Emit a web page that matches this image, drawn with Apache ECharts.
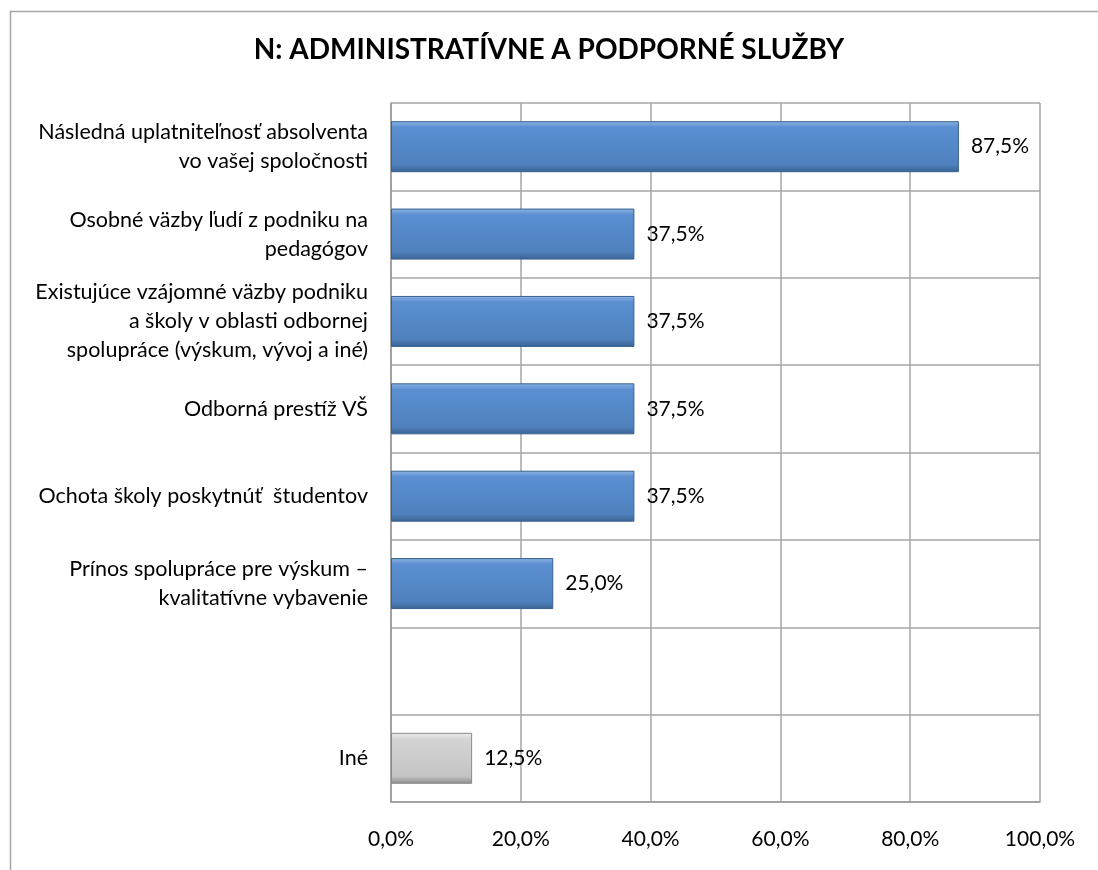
<!DOCTYPE html>
<html>
<head>
<meta charset="utf-8">
<script src="https://cdn.jsdelivr.net/npm/echarts@6/dist/echarts.min.js"></script>
<style>
html,body{margin:0;padding:0;background:#fff;}
#chart{width:1098px;height:870px;}
</style>
</head>
<body>
<div id="chart"></div>
<script>
var categories = [
	'Následná uplatniteľnosť absolventa\nvo vašej spoločnosti',
	'Osobné väzby ľudí z podniku na\npedagógov',
	'Existujúce vzájomné väzby podniku\na školy v oblasti odbornej\nspolupráce (výskum, vývoj a iné)',
	'Odborná prestíž VŠ',
	'Ochota školy poskytnúť  študentov',
	'Prínos spolupráce pre výskum –\nkvalitatívne vybavenie',
	'',
	'Iné'
];
var values = [87.5, 37.5, 37.5, 37.5, 37.5, 25.0, null, 12.5];
var greyIndex = 7;

var chart = echarts.init(document.getElementById('chart'));

var blue = new echarts.graphic.LinearGradient(0, 0, 0, 1, [
	{offset: 0, color: '#8db4e3'},
	{offset: 0.12, color: '#5b8fd1'},
	{offset: 0.85, color: '#4f81bd'},
	{offset: 1, color: '#3a6394'}
]);
var grey = new echarts.graphic.LinearGradient(0, 0, 0, 1, [
	{offset: 0, color: '#eeeeee'},
	{offset: 0.12, color: '#d4d4d4'},
	{offset: 0.85, color: '#c4c4c4'},
	{offset: 1, color: '#8c8c8c'}
]);

var seriesData = values.map(function (v, i) {
	return {
		value: v,
		itemStyle: {
			color: i === greyIndex ? grey : blue,
			borderColor: i === greyIndex ? '#8a8a8a' : '#36608f',
			borderWidth: 1
		}
	};
});

var font = 'Lato, "Open Sans", sans-serif';

function pct(v) {
	return v.toFixed(1).replace('.', ',') + '%';
}

var option = {
	backgroundColor: '#fff',
	animation: false,
	graphic: [{
		type: 'rect',
		shape: {x: 10.5, y: 11.5, width: 1100, height: 880},
		style: {fill: 'none', stroke: '#a6a6a6', lineWidth: 1.5}
	}],
	title: {
		text: 'N: ADMINISTRATÍVNE A PODPORNÉ SLUŽBY',
		left: 'center',
		top: 31,
		textStyle: {
			fontFamily: font,
			fontSize: 28,
			fontWeight: 'bold',
			color: '#000'
		}
	},
	grid: {
		left: 391,
		right: 58,
		top: 103,
		bottom: 68,
		containLabel: false
	},
	xAxis: {
		type: 'value',
		min: 0,
		max: 100,
		interval: 20,
		axisLine: {show: true, lineStyle: {color: '#9a9a9a', width: 1.5}},
		axisTick: {show: false},
		splitLine: {show: true, lineStyle: {color: '#a6a6a6', width: 1.5}},
		axisLabel: {
			margin: 27,
			fontFamily: font,
			fontSize: 21,
			color: '#000',
			formatter: pct
		}
	},
	yAxis: {
		type: 'category',
		inverse: true,
		data: categories,
		axisLine: {show: true, lineStyle: {color: '#9a9a9a', width: 1.5}},
		axisTick: {show: false},
		splitLine: {show: true, lineStyle: {color: '#a6a6a6', width: 1.5}},
		axisLabel: {
			margin: 23,
			fontFamily: font,
			fontSize: 21.5,
			color: '#000',
			lineHeight: 29,
			align: 'right'
		}
	},
	series: [{
		type: 'bar',
		barWidth: 51,
		data: seriesData,
		label: {
			show: true,
			position: 'right',
			distance: 12,
			fontFamily: font,
			fontSize: 21,
			color: '#000',
			formatter: function (p) { return pct(p.value); }
		}
	}]
};

chart.setOption(option);
</script>
</body>
</html>
